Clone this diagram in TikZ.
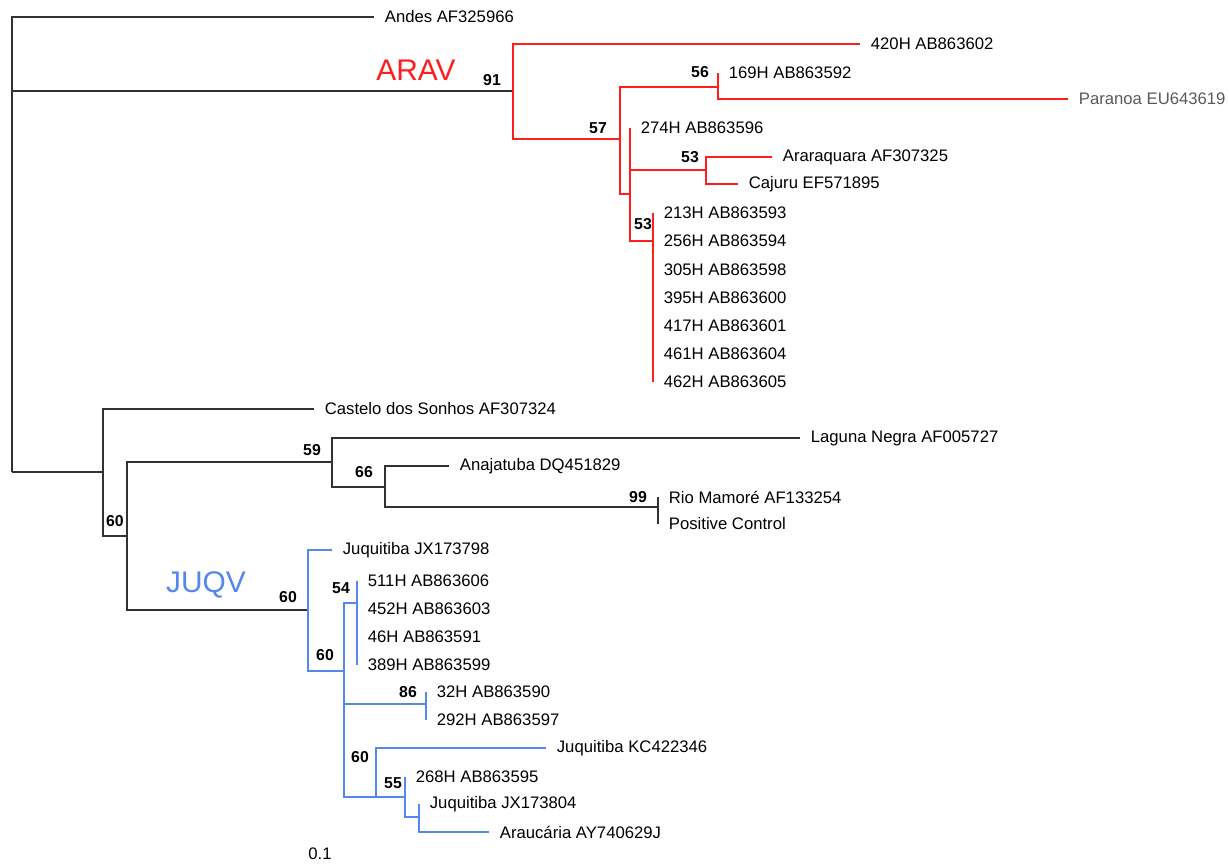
\documentclass[tikz,border=0pt]{standalone}
\usepackage{fontspec}
\setmainfont{Liberation Sans}
\usetikzlibrary{positioning}

\definecolor{aravred}{RGB}{255,30,30}
\definecolor{juqvblue}{RGB}{85,135,240}
\definecolor{treegray}{RGB}{50,50,50}

\tikzset{
	leaf/.style={anchor=west,inner xsep=6pt,inner ysep=1pt,font=\fontsize{9.5}{11}\selectfont},
	boot/.style={inner sep=0pt,font=\fontsize{9}{11}\selectfont\bfseries},
	clade/.style={inner sep=0pt,font=\fontsize{17}{20}\selectfont},
	aravline/.style={draw=aravred,line width=1.1pt},
	juqvline/.style={draw=juqvblue,line width=1.1pt},
	treeline/.style={draw=treegray,line width=1.1pt}
}

\begin{document}
\begin{tikzpicture}[x=0.02cm,y=-0.02cm]

\useasboundingbox (0,0) rectangle (1229,865);

% inner nodes
\coordinate (root) at (12,472);
\coordinate (A) at (513,91);  % ARAV
\coordinate (B) at (620,139);
\coordinate (C) at (718,87);
\coordinate (D) at (630,194);
\coordinate (E) at (706,170);
\coordinate (F) at (653,241);
\coordinate (G) at (103,472);
\coordinate (H) at (127,536);
\coordinate (I) at (332,462);
\coordinate (J) at (385,487);
\coordinate (K) at (658,507);
\coordinate (L) at (308,610); % JUQV
\coordinate (M) at (344,671);
\coordinate (N) at (357,603);
\coordinate (O) at (426,704);
\coordinate (P) at (376,797);
\coordinate (Q) at (405,797);
\coordinate (R) at (419,817);

% leaves, upper part
\node[leaf] (andes) at (374,17) {Andes AF325966};
\node[leaf] (s420) at (860,44) {420H AB863602};
\node[leaf] (s169) at (718,73) {169H AB863592};
\node[leaf,text=black!65] (paranoa) at (1068,99) {Paranoa EU643619};
\node[leaf] (s274) at (630,128) {274H AB863596};
\node[leaf] (arar) at (772,157) {Araraquara AF307325};
\node[leaf] (cajuru) at (738,184) {Cajuru EF571895};
\foreach \lab [count=\i from 0] in {213H AB863593,256H AB863594,305H AB863598,395H AB863600,417H AB863601,461H AB863604,462H AB863605}
	\node[leaf] (f\i) at (653,{213+28.15*\i}) {\lab};

% leaves, lower part
\node[leaf] (castelo) at (314,409) {Castelo dos Sonhos AF307324};
\node[leaf] (laguna) at (800,438) {Laguna Negra AF005727};
\node[leaf] (anaj) at (449,466) {Anajatuba DQ451829};
\node[leaf] (rio) at (658,497) {Rio Mamoré AF133254};
\node[leaf] (posctrl) at (658,524) {Positive Control};
\node[leaf] (jx798) at (332,550) {Juquitiba JX173798};
\foreach \lab [count=\i from 0] in {511H AB863606,452H AB863603,46H AB863591,389H AB863599}
	\node[leaf] (n\i) at (357,{581+28*\i}) {\lab};
\node[leaf] (s32) at (426,692) {32H AB863590};
\node[leaf] (s292) at (426,720) {292H AB863597};
\node[leaf] (kc346) at (546,748) {Juquitiba KC422346};
\node[leaf] (s268) at (405,777) {268H AB863595};
\node[leaf] (jx804) at (419,804) {Juquitiba JX173804};
\node[leaf] (arauc) at (489,832) {Araucária AY740629J};

% branches
\draw[treeline] (root) |- (andes.west);
\draw[treeline] (root) |- (A);
\draw[treeline] (root) -- (G);

\draw[aravline] (A) |- (s420.west);
\draw[aravline] (A) |- (B);
\draw[aravline] (B) |- (C);
\draw[aravline] (C) |- (s169.west);
\draw[aravline] (C) |- (paranoa.west);
\draw[aravline] (B) |- (D);
\draw[aravline] (D) |- (s274.west);
\draw[aravline] (D) |- (E);
\draw[aravline] (E) |- (arar.west);
\draw[aravline] (E) |- (cajuru.west);
\draw[aravline] (D) |- (F);
\foreach \i in {0,...,6}
	\draw[aravline] (F) |- (f\i.west);

\draw[treeline] (G) |- (castelo.west);
\draw[treeline] (G) |- (H);
\draw[treeline] (H) |- (I);
\draw[treeline] (I) |- (laguna.west);
\draw[treeline] (I) |- (J);
\draw[treeline] (J) |- (anaj.west);
\draw[treeline] (J) |- (K);
\draw[treeline] (K) |- (rio.west);
\draw[treeline] (K) |- (posctrl.west);
\draw[treeline] (H) |- (L);

\draw[juqvline] (L) |- (jx798.west);
\draw[juqvline] (L) |- (M);
\draw[juqvline] (M) |- (N);
\foreach \i in {0,...,3}
	\draw[juqvline] (N) |- (n\i.west);
\draw[juqvline] (M) |- (O);
\draw[juqvline] (O) |- (s32.west);
\draw[juqvline] (O) |- (s292.west);
\draw[juqvline] (M) |- (P);
\draw[juqvline] (P) |- (kc346.west);
\draw[juqvline] (P) -- (Q);
\draw[juqvline] (Q) |- (s268.west);
\draw[juqvline] (Q) |- (R);
\draw[juqvline] (R) |- (jx804.west);
\draw[juqvline] (R) |- (arauc.west);

% bootstrap values
\node[boot] (b91) at (492,80) {91};
\node[boot] (b57) at (598,128) {57};
\node[boot] (b56) at (700,72) {56};
\node[boot] (b53a) at (690,157) {53};
\node[boot] (b53b) at (643,224) {53};
\node[boot] (b59) at (312,450) {59};
\node[boot] (b66) at (364,472) {66};
\node[boot] (b99) at (638,497) {99};
\node[boot] (b60a) at (115,521) {60};
\node[boot] (b60b) at (288,597) {60};
\node[boot] (b54) at (341,588) {54};
\node[boot] (b60c) at (325,655) {60};
\node[boot] (b86) at (408,692) {86};
\node[boot] (b60d) at (360,757) {60};
\node[boot] (b55) at (393,783) {55};

% clade names
\node[clade,text=aravred] (arav) at (416,70) {ARAV};
\node[clade,text=juqvblue] (juqv) at (206,585) {JUQV};

\node[leaf,anchor=center,inner sep=0pt] (scale) at (320,854) {0.1};

\end{tikzpicture}
\end{document}
